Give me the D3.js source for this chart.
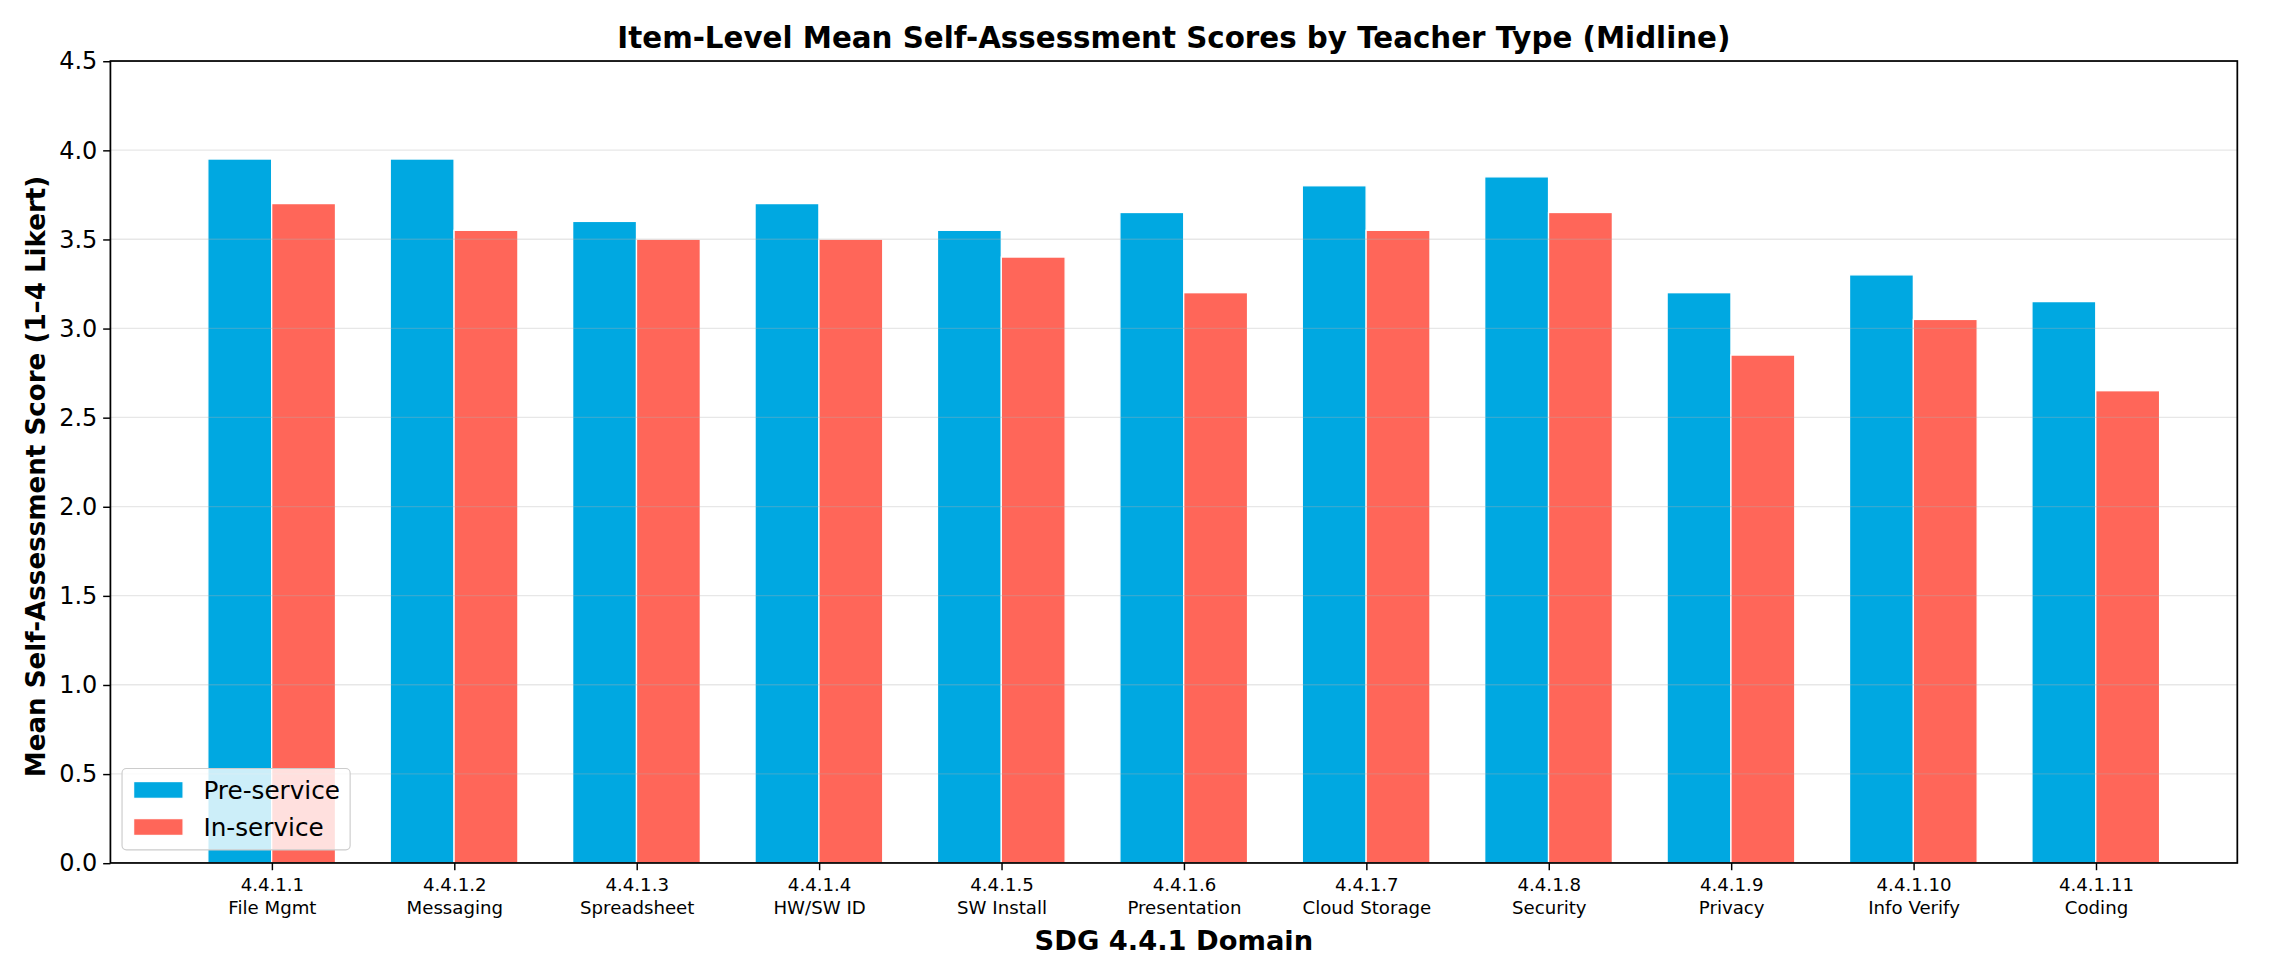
<!DOCTYPE html>
<html>
<head>
<meta charset="utf-8">
<script src="https://cdn.jsdelivr.net/npm/d3@7"></script>
<style>
  html, body { margin: 0; padding: 0; background: #ffffff; }
  svg { display: block; }
  text { font-family: "DejaVu Sans", sans-serif; fill: #000; }
</style>
</head>
<body>
<svg id="chart" width="2278" height="971"></svg>
<script>
const codes = ["4.4.1.1","4.4.1.2","4.4.1.3","4.4.1.4","4.4.1.5","4.4.1.6","4.4.1.7","4.4.1.8","4.4.1.9","4.4.1.10","4.4.1.11"];
const names = ["File Mgmt","Messaging","Spreadsheet","HW/SW ID","SW Install","Presentation","Cloud Storage","Security","Privacy","Info Verify","Coding"];
const preService = [3.95, 3.95, 3.60, 3.70, 3.55, 3.65, 3.80, 3.85, 3.20, 3.30, 3.15];
const inService  = [3.70, 3.55, 3.50, 3.50, 3.40, 3.20, 3.55, 3.65, 2.85, 3.05, 2.65];
const seriesNames = ["Pre-service", "In-service"];
const yTicks = [0.0, 0.5, 1.0, 1.5, 2.0, 2.5, 3.0, 3.5, 4.0, 4.5];

const colors = ["#00A8E1", "#FF6659"];
const K = 2278 / 1568;
const pL = 76, pR = 1540, pT = 42, pB = 594;
const barW = 0.35;

const root = d3.select("#chart").append("g").attr("transform", `scale(${K})`);
const x = d3.scaleLinear().domain([-0.884, 10.776]).range([pL, pR]);
const y = d3.scaleLinear().domain([0, 4.5]).range([pB, pT]);

const series = [preService, inService];
const offsets = [-barW / 2, barW / 2];

// bars
series.forEach((vals, s) => {
  root.append("g").selectAll("rect").data(vals).join("rect")
    .attr("x", (d, i) => x(i + offsets[s] - barW / 2))
    .attr("width", x(barW) - x(0))
    .attr("y", d => y(d))
    .attr("height", d => y(0) - y(d))
    .attr("fill", colors[s])
    .attr("stroke", "#ffffff")
    .attr("stroke-width", 0.9);
});

// grid on top (faint)
root.append("g").selectAll("line").data(yTicks.slice(1, -1)).join("line")
  .attr("x1", pL).attr("x2", pR)
  .attr("y1", d => y(d)).attr("y2", d => y(d))
  .attr("stroke", "#b0b0b0").attr("stroke-opacity", 0.3).attr("stroke-width", 0.9);

// axes
const yAxis = d3.axisLeft(y).tickValues(yTicks).tickFormat(d3.format(".1f")).tickSizeOuter(0).tickSize(5).tickPadding(4);
const gy = root.append("g").attr("transform", `translate(${pL},0)`).call(yAxis);
gy.select(".domain").remove();
gy.selectAll("text").style("font-size", "16.5px").attr("fill", "#000");
gy.selectAll("line").attr("stroke", "#000").attr("stroke-width", 1);

const xAxis = d3.axisBottom(x).tickValues(d3.range(codes.length)).tickFormat("").tickSizeOuter(0).tickSize(5);
const gx = root.append("g").attr("transform", `translate(0,${pB})`).call(xAxis);
gx.select(".domain").remove();
gx.selectAll("line").attr("stroke", "#000").attr("stroke-width", 1);
gx.selectAll(".tick").each(function(d, i) {
  const t = d3.select(this).append("text")
    .attr("text-anchor", "middle")
    .style("font-size", "12.5px")
    .attr("fill", "#000");
  t.append("tspan").attr("x", 0).attr("y", 19).text(codes[i]);
  t.append("tspan").attr("x", 0).attr("y", 35).text(names[i]);
});

// frame
root.append("rect").attr("x", pL).attr("y", pT).attr("width", pR - pL).attr("height", pB - pT)
  .attr("fill", "none").attr("stroke", "#000").attr("stroke-width", 1.2);

// title and labels
root.append("text").attr("x", (pL + pR) / 2).attr("y", 33).attr("text-anchor", "middle")
  .style("font-size", "20.2px").style("font-weight", "bold")
  .text("Item-Level Mean Self-Assessment Scores by Teacher Type (Midline)");

root.append("text").attr("x", (pL + pR) / 2).attr("y", 654).attr("text-anchor", "middle")
  .style("font-size", "18.8px").style("font-weight", "bold")
  .text("SDG 4.4.1 Domain");

root.append("text").attr("transform", `translate(31,${(pT + pB) / 2 + 10}) rotate(-90)`).attr("text-anchor", "middle")
  .style("font-size", "18px").style("font-weight", "bold")
  .text("Mean Self-Assessment Score (1–4 Likert)");

// legend
const lg = root.append("g").attr("transform", "translate(84,529)");
lg.append("rect").attr("width", 157).attr("height", 56).attr("rx", 3)
  .attr("fill", "#ffffff").attr("fill-opacity", 0.8)
  .attr("stroke", "#cccccc").attr("stroke-width", 0.8);
seriesNames.forEach((n, s) => {
  lg.append("rect").attr("x", 8).attr("y", 9 + s * 25.5).attr("width", 34).attr("height", 11.5)
    .attr("fill", colors[s]).attr("stroke", "#ffffff").attr("stroke-width", 0.8);
  lg.append("text").attr("x", 56).attr("y", 21 + s * 25.5)
    .style("font-size", "17px").text(n);
});
</script>
</body>
</html>
